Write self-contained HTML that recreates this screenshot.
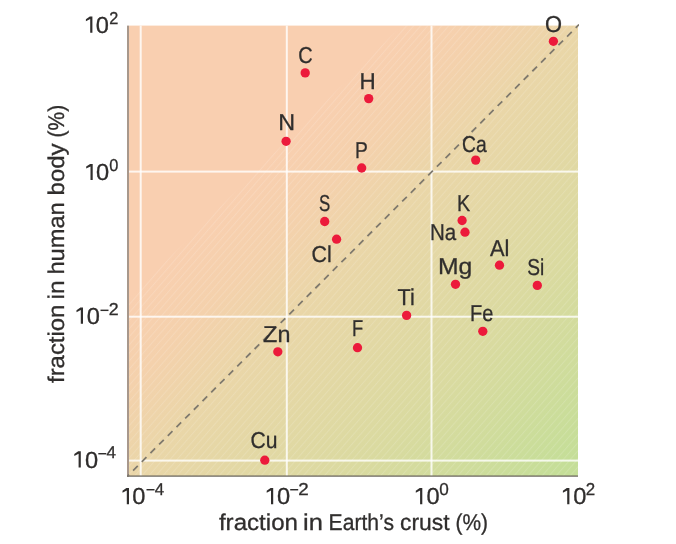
<!DOCTYPE html>
<html><head><meta charset="utf-8"><title>Element abundance</title>
<style>html,body{margin:0;padding:0;background:#fff;width:676px;height:544px;overflow:hidden}svg{display:block;will-change:transform}</style>
</head><body>
<svg width="676" height="544" viewBox="0 0 676 544" text-rendering="geometricPrecision" font-family='"Liberation Sans", sans-serif'>
<defs>
<linearGradient id="bg" gradientUnits="userSpaceOnUse" x1="212.5" y1="212.5" x2="515" y2="515">
<stop offset="0" stop-color="#f9cfb0"/>
<stop offset="0.15" stop-color="#f4d1ac"/>
<stop offset="0.3" stop-color="#ead6a8"/>
<stop offset="0.66" stop-color="#dadaa0"/>
<stop offset="1" stop-color="#c5de98"/>
</linearGradient>
<pattern id="hatch" patternUnits="userSpaceOnUse" width="5.3" height="5.3" patternTransform="rotate(-49)">
<rect x="0" y="0" width="5.3" height="1" fill="#ffffff" fill-opacity="0.14"/>
</pattern>
<clipPath id="pc2"><rect x="127" y="24" width="452" height="452"/></clipPath>
<clipPath id="pc"><rect x="128" y="25.5" width="450" height="450.5"/></clipPath>
</defs>
<rect width="676" height="544" fill="#ffffff"/>
<rect x="129.0" y="25.6" width="449.0" height="450.4" fill="url(#bg)"/>
<g clip-path="url(#pc)"><polygon points="427,0 700,0 700,700 0,700 0,427" fill="url(#hatch)"/></g>
<g fill="#ffffff" fill-opacity="0.8"><rect x="139.70" y="25.6" width="2" height="450.4"/><rect x="285.80" y="25.6" width="2" height="450.4"/><rect x="430.50" y="25.6" width="2" height="450.4"/><rect x="129.0" y="459.60" width="449.0" height="2"/><rect x="129.0" y="315.70" width="449.0" height="2"/><rect x="129.0" y="170.60" width="449.0" height="2"/></g>
<rect x="127" y="25.6" width="2" height="451.20" fill="#a8988c"/>
<rect x="127" y="475.45" width="451.0" height="1.3" fill="#6e6a60"/>
<line x1="127.00" y1="476.60" x2="579.0" y2="24.600000000000023" stroke="#7f796d" stroke-width="1.8" stroke-dasharray="6.6 5.675" stroke-dashoffset="3.668" clip-path="url(#pc2)"/>
<text transform="translate(544.91,31.50) scale(0.9500,1)" font-size="23.0" fill="#302e2d" stroke="#302e2d" stroke-width="0.3">O</text>
<text transform="translate(298.32,63.00) scale(0.8678,1)" font-size="23.0" fill="#302e2d" stroke="#302e2d" stroke-width="0.3">C</text>
<text transform="translate(359.51,89.20) scale(0.9736,1)" font-size="23.0" fill="#302e2d" stroke="#302e2d" stroke-width="0.3">H</text>
<text transform="translate(278.24,130.30) scale(1.0116,1)" font-size="23.0" fill="#302e2d" stroke="#302e2d" stroke-width="0.3">N</text>
<text transform="translate(355.05,158.10) scale(0.8372,1)" font-size="23.0" fill="#302e2d" stroke="#302e2d" stroke-width="0.3">P</text>
<text transform="translate(462.05,151.50) scale(0.8376,1)" font-size="23.0" fill="#302e2d" stroke="#302e2d" stroke-width="0.3">Ca</text>
<text transform="translate(319.05,211.00) scale(0.7311,1)" font-size="23.0" fill="#302e2d" stroke="#302e2d" stroke-width="0.3">S</text>
<text transform="translate(311.45,261.80) scale(0.9320,1)" font-size="23.0" fill="#302e2d" stroke="#302e2d" stroke-width="0.3">Cl</text>
<text transform="translate(457.11,210.60) scale(0.8595,1)" font-size="23.0" fill="#302e2d" stroke="#302e2d" stroke-width="0.3">K</text>
<text transform="translate(430.05,239.50) scale(0.8916,1)" font-size="23.0" fill="#302e2d" stroke="#302e2d" stroke-width="0.3">Na</text>
<text transform="translate(490.00,255.70) scale(0.9495,1)" font-size="23.0" fill="#302e2d" stroke="#302e2d" stroke-width="0.3">Al</text>
<text transform="translate(437.94,273.60) scale(1.0733,1)" font-size="23.0" fill="#302e2d" stroke="#302e2d" stroke-width="0.3">Mg</text>
<text transform="translate(527.16,274.70) scale(0.8317,1)" font-size="23.0" fill="#302e2d" stroke="#302e2d" stroke-width="0.3">Si</text>
<text transform="translate(397.56,304.80) scale(0.9372,1)" font-size="23.0" fill="#302e2d" stroke="#302e2d" stroke-width="0.3">Ti</text>
<text transform="translate(352.02,335.60) scale(0.7971,1)" font-size="23.0" fill="#302e2d" stroke="#302e2d" stroke-width="0.3">F</text>
<text transform="translate(469.99,321.00) scale(0.8707,1)" font-size="23.0" fill="#302e2d" stroke="#302e2d" stroke-width="0.3">Fe</text>
<text transform="translate(263.11,341.70) scale(1.0154,1)" font-size="23.0" fill="#302e2d" stroke="#302e2d" stroke-width="0.3">Zn</text>
<text transform="translate(250.57,448.30) scale(0.9183,1)" font-size="23.0" fill="#302e2d" stroke="#302e2d" stroke-width="0.3">Cu</text>
<circle cx="553.4" cy="41.3" r="4.65" fill="#ec1a3b"/>
<circle cx="305.2" cy="72.9" r="4.65" fill="#ec1a3b"/>
<circle cx="368.7" cy="98.6" r="4.65" fill="#ec1a3b"/>
<circle cx="286.1" cy="141.3" r="4.65" fill="#ec1a3b"/>
<circle cx="361.7" cy="168.0" r="4.65" fill="#ec1a3b"/>
<circle cx="475.7" cy="160.1" r="4.65" fill="#ec1a3b"/>
<circle cx="324.7" cy="221.5" r="4.65" fill="#ec1a3b"/>
<circle cx="336.6" cy="239.2" r="4.65" fill="#ec1a3b"/>
<circle cx="462.1" cy="220.5" r="4.65" fill="#ec1a3b"/>
<circle cx="465.0" cy="232.2" r="4.65" fill="#ec1a3b"/>
<circle cx="499.5" cy="265.2" r="4.65" fill="#ec1a3b"/>
<circle cx="455.5" cy="284.3" r="4.65" fill="#ec1a3b"/>
<circle cx="537.3" cy="285.4" r="4.65" fill="#ec1a3b"/>
<circle cx="406.6" cy="315.4" r="4.65" fill="#ec1a3b"/>
<circle cx="357.5" cy="347.7" r="4.65" fill="#ec1a3b"/>
<circle cx="482.8" cy="331.3" r="4.65" fill="#ec1a3b"/>
<circle cx="277.8" cy="351.8" r="4.65" fill="#ec1a3b"/>
<circle cx="264.8" cy="460.2" r="4.65" fill="#ec1a3b"/>
<polygon points="129.00,488.00 129.00,504.20 126.80,504.20 126.80,490.50 122.50,492.70 122.50,490.70 126.40,488.00" fill="#302e2d"/><text transform="translate(132.33,504.20) scale(1.0184,1)" font-size="23.2" fill="#302e2d" stroke="#302e2d" stroke-width="0.3">0</text><text transform="translate(154.76,495.10) scale(0.9814,1)" font-size="17.2" fill="#302e2d" stroke="#302e2d" stroke-width="0.3">4</text><rect x="146.5" y="489.00" width="8.00" height="1.45" fill="#302e2d"/>
<polygon points="273.20,488.00 273.20,504.20 271.00,504.20 271.00,490.50 266.70,492.70 266.70,490.70 270.60,488.00" fill="#302e2d"/><text transform="translate(276.93,504.20) scale(1.0184,1)" font-size="23.2" fill="#302e2d" stroke="#302e2d" stroke-width="0.3">0</text><text transform="translate(298.22,495.10) scale(1.0939,1)" font-size="17.2" fill="#302e2d" stroke="#302e2d" stroke-width="0.3">2</text><rect x="290.2" y="489.00" width="8.00" height="1.45" fill="#302e2d"/>
<polygon points="422.30,488.00 422.30,504.20 420.10,504.20 420.10,490.50 415.80,492.70 415.80,490.70 419.70,488.00" fill="#302e2d"/><text transform="translate(426.43,504.20) scale(1.0184,1)" font-size="23.2" fill="#302e2d" stroke="#302e2d" stroke-width="0.3">0</text><text transform="translate(439.18,495.10) scale(0.9974,1)" font-size="17.2" fill="#302e2d" stroke="#302e2d" stroke-width="0.3">0</text>
<polygon points="569.40,488.00 569.40,504.20 567.20,504.20 567.20,490.50 562.90,492.70 562.90,490.70 566.80,488.00" fill="#302e2d"/><text transform="translate(573.13,504.20) scale(1.0184,1)" font-size="23.2" fill="#302e2d" stroke="#302e2d" stroke-width="0.3">0</text><text transform="translate(585.70,495.10) scale(0.9833,1)" font-size="17.2" fill="#302e2d" stroke="#302e2d" stroke-width="0.3">2</text>
<polygon points="92.40,16.50 92.40,32.70 90.20,32.70 90.20,19.00 85.90,21.20 85.90,19.20 89.80,16.50" fill="#302e2d"/><text transform="translate(95.83,32.70) scale(1.0184,1)" font-size="23.2" fill="#302e2d" stroke="#302e2d" stroke-width="0.3">0</text><text transform="translate(109.22,23.60) scale(0.9464,1)" font-size="17.2" fill="#302e2d" stroke="#302e2d" stroke-width="0.3">2</text>
<polygon points="92.70,163.90 92.70,180.10 90.50,180.10 90.50,166.40 86.20,168.60 86.20,166.60 90.10,163.90" fill="#302e2d"/><text transform="translate(95.93,180.10) scale(1.0184,1)" font-size="23.2" fill="#302e2d" stroke="#302e2d" stroke-width="0.3">0</text><text transform="translate(109.30,171.00) scale(0.9505,1)" font-size="17.2" fill="#302e2d" stroke="#302e2d" stroke-width="0.3">0</text>
<polygon points="83.00,307.60 83.00,323.80 80.80,323.80 80.80,310.10 76.50,312.30 76.50,310.30 80.40,307.60" fill="#302e2d"/><text transform="translate(86.83,323.80) scale(1.0184,1)" font-size="23.2" fill="#302e2d" stroke="#302e2d" stroke-width="0.3">0</text><text transform="translate(108.66,314.70) scale(1.0325,1)" font-size="17.2" fill="#302e2d" stroke="#302e2d" stroke-width="0.3">2</text><rect x="100.5" y="309.60" width="8.00" height="1.45" fill="#302e2d"/>
<polygon points="80.80,451.30 80.80,467.50 78.60,467.50 78.60,453.80 74.30,456.00 74.30,454.00 78.20,451.30" fill="#302e2d"/><text transform="translate(85.03,467.50) scale(1.0184,1)" font-size="23.2" fill="#302e2d" stroke="#302e2d" stroke-width="0.3">0</text><text transform="translate(106.46,458.40) scale(0.9925,1)" font-size="17.2" fill="#302e2d" stroke="#302e2d" stroke-width="0.3">4</text><rect x="98.3" y="453.00" width="8.00" height="1.45" fill="#302e2d"/>
<text transform="translate(218.92,530.40) scale(1.0578,1)" font-size="22.8" fill="#302e2d" stroke="#302e2d" stroke-width="0.3">fraction</text>
<text transform="translate(303.06,530.40) scale(1.1170,1)" font-size="22.8" fill="#302e2d" stroke="#302e2d" stroke-width="0.3">in</text>
<text transform="translate(328.61,530.40) scale(0.9261,1)" font-size="22.8" fill="#302e2d" stroke="#302e2d" stroke-width="0.3">Earth’s</text>
<text transform="translate(400.08,530.40) scale(1.0026,1)" font-size="22.8" fill="#302e2d" stroke="#302e2d" stroke-width="0.3">crust</text>
<text transform="translate(455.54,530.40) scale(0.9171,1)" font-size="22.8" fill="#302e2d" stroke="#302e2d" stroke-width="0.3">(%)</text>
<g transform="translate(64,0) rotate(-90)"><text transform="translate(-382.98,0.00) scale(1.0483,1)" font-size="22.8" fill="#302e2d" stroke="#302e2d" stroke-width="0.3">fraction</text><text transform="translate(-299.38,0.00) scale(1.0771,1)" font-size="22.8" fill="#302e2d" stroke="#302e2d" stroke-width="0.3">in</text><text transform="translate(-274.59,0.00) scale(1.0381,1)" font-size="22.8" fill="#302e2d" stroke="#302e2d" stroke-width="0.3">human</text><text transform="translate(-195.39,0.00) scale(1.0513,1)" font-size="22.8" fill="#302e2d" stroke="#302e2d" stroke-width="0.3">body</text><text transform="translate(-137.46,0.00) scale(0.9201,1)" font-size="22.8" fill="#302e2d" stroke="#302e2d" stroke-width="0.3">(%)</text></g>
</svg>
</body></html>
